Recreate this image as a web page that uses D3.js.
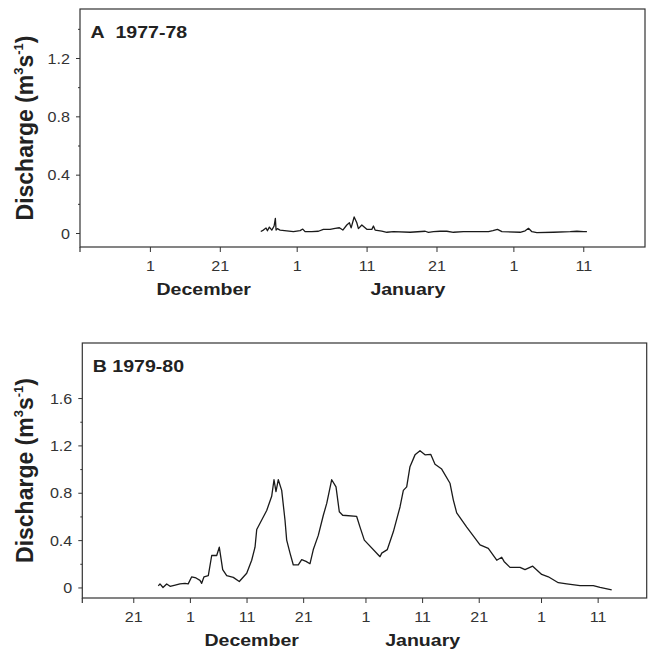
<!DOCTYPE html>
<html>
<head>
<meta charset="utf-8">
<script src="https://cdn.jsdelivr.net/npm/d3@7"></script>
<style>
  body { margin: 0; background: #fff; }
  text { font-family: "Liberation Sans", Arial, sans-serif; fill: #222; }
</style>
</head>
<body>
<svg id="chart" width="648" height="651"></svg>
<script>
'use strict';

// discharge series, x = days after 1 December, y = m3/s
const daysA = [25.86, 26.23, 26.62, 26.81, 27.09, 27.44, 27.77, 27.95, 28.05, 28.24, 28.62, 29.58, 30.53,
  31.49, 31.87, 32.2, 33.16, 34.11, 34.82, 35.78, 36.5, 37.11, 37.6, 38.17, 38.54, 38.79, 39.22, 39.6,
  39.83, 40.32, 41.03, 41.75, 41.98, 42.22, 43.18, 43.9, 44.84, 47.23, 49.38, 49.85, 50.57, 51.52, 52.48,
  53.43, 54.86, 56.96, 58.44, 59.07, 59.73, 60.36, 62.97, 63.69, 64.16, 64.65, 65.36, 67.74, 70.13,
  71.09, 72.04, 72.52];
const flowA = [0.01, 0.02, 0.034, 0.015, 0.04, 0.02, 0.048, 0.1, 0.02, 0.03, 0.02, 0.014, 0.009,
  0.016, 0.027, 0.009, 0.009, 0.012, 0.025, 0.025, 0.032, 0.036, 0.02, 0.055, 0.07, 0.035, 0.11, 0.07,
  0.03, 0.055, 0.025, 0.025, 0.048, 0.02, 0.013, 0.005, 0.009, 0.005, 0.012, 0.005, 0.009, 0.012, 0.012,
  0.005, 0.009, 0.009, 0.009, 0.016, 0.025, 0.009, 0.005, 0.015, 0.032, 0.009, 0.002, 0.005, 0.009,
  0.012, 0.009, 0.009];

const daysB = [-5.58, -5.28, -4.75, -4.1, -3.5, -2.6, -1.75, -0.87, -0.3, 0.32, 1.08, 1.78, 2.08, 2.49,
  3.25, 3.85, 4.73, 5.19, 5.79, 6.5, 7.66, 8.72, 10.03, 10.91, 11.5, 11.8, 12.68, 13.56, 14.44, 14.85,
  15.2, 15.61, 16.21, 16.79, 17.09, 17.68, 18.26, 19.14, 19.74, 20.5, 21.2, 21.79, 22.67, 23.56, 24.16,
  25.04, 25.8, 26.38, 26.98, 29.45, 30.04, 30.8, 33.57, 33.87, 34.86, 35.92, 37.1, 37.69, 38.28, 38.86,
  39.75, 40.63, 41.51, 42.52, 43.28, 44.46, 45.93, 46.51, 47.11, 48.88, 51.23, 52.69, 54.18, 55.06,
  55.47, 56.52, 58.29, 59.17, 60.53, 62.12, 63.29, 65.05, 66.54, 68.88, 71.23, 72.42, 74.48];
const flowB = [0.013, 0.03, 0.0, 0.03, 0.01, 0.02, 0.03, 0.035, 0.03, 0.09, 0.08, 0.06, 0.035, 0.09,
  0.1, 0.27, 0.27, 0.34, 0.15, 0.1, 0.085, 0.05, 0.12, 0.23, 0.34, 0.49, 0.57, 0.65, 0.77, 0.91,
  0.81, 0.91, 0.82, 0.57, 0.4, 0.29, 0.19, 0.19, 0.235, 0.22, 0.2, 0.32, 0.44, 0.61, 0.71,
  0.91, 0.85, 0.64, 0.61, 0.6, 0.51, 0.4, 0.26, 0.29, 0.32, 0.47, 0.68, 0.82, 0.85, 1.02,
  1.12, 1.155, 1.12, 1.125, 1.04, 1.0, 0.88, 0.74, 0.63, 0.51, 0.36, 0.33, 0.23, 0.255,
  0.22, 0.17, 0.17, 0.15, 0.18, 0.11, 0.09, 0.04, 0.03, 0.015, 0.015, 0.0, -0.02];

const yTicksA = [0, 0.4, 0.8, 1.2];
const yMinorA = [0.2, 0.6, 1.0, 1.4];
const yTicksB = [0, 0.4, 0.8, 1.2, 1.6];
const yMinorB = [0.2, 0.6, 1.0, 1.4];
const yLabelsA = ['0', '0.4', '0.8', '1.2'];
const yLabelsB = ['0', '0.4', '0.8', '1.2', '1.6'];

const xTickDaysA = [10, 20, 31, 41, 51, 62, 72];
const xTickLabelsA = ['1', '21', '1', '11', '21', '1', '11'];
const xTickDaysB = [-10, 0, 10, 20, 31, 41, 51, 62, 72];
const xTickLabelsB = ['21', '1', '11', '21', '1', '11', '21', '1', '11'];

const months = ['December', 'January'];
const monthDaysA = [17.7, 46.9];
const monthDaysB = [10.9, 41.1];

const SX = 1.15;  // the printed figure is a bit wider than tall
const DAY = 864e5;
const svg = d3.select('#chart');

const panels = [
  { title: 'A\u00a0 1977-78', year: 1977, days: daysA, flow: flowA,
    yTicks: yTicksA, yMinor: yMinorA, yLabels: yLabelsA,
    xTicks: xTickDaysA, xLabels: xTickLabelsA, monthDays: monthDaysA,
    left: 80, right: 645, top: 9, bottom: 247,
    dayDomain: [0, 80.83], yDomain: [-0.096, 1.536] },
  { title: 'B 1979-80', year: 1979, days: daysB, flow: flowB,
    yTicks: yTicksB, yMinor: yMinorB, yLabels: yLabelsB,
    xTicks: xTickDaysB, xLabels: xTickLabelsB, monthDays: monthDaysB,
    left: 82.3, right: 646.7, top: 343, bottom: 598,
    dayDomain: [-19.0, 80.66], yDomain: [-0.089, 2.065] }
];

function stretched(g, x, y, str) {
  return g.append('text')
    .attr('transform', `translate(${x},${y}) scale(${SX},1)`)
    .text(str);
}

function drawPanel(p) {
  const start = Date.UTC(p.year, 11, 1);
  const toDate = d => new Date(start + d * DAY);

  const x = d3.scaleUtc()
    .domain(p.dayDomain.map(toDate))
    .range([p.left, p.right]);
  const y = d3.scaleLinear()
    .domain(p.yDomain)
    .range([p.bottom, p.top]);

  const g = svg.append('g');

  // x axis
  const xAxis = d3.axisBottom(x)
    .tickValues(p.xTicks.map(toDate))
    .tickSize(5)
    .tickFormat((d, i) => p.xLabels[i]);
  const gx = g.append('g')
    .attr('transform', `translate(0,${p.bottom})`)
    .call(xAxis);
  gx.select('.domain').remove();
  gx.selectAll('.tick line').attr('stroke', '#333');
  gx.selectAll('.tick text')
    .attr('y', 0).attr('dy', 0)
    .attr('transform', `translate(0,24) scale(${SX},1)`)
    .style('font-size', '14px').style('fill', '#333');

  // y axis, labelled + minor ticks
  const yAxis = d3.axisLeft(y)
    .tickValues(p.yTicks)
    .tickSize(4)
    .tickFormat((d, i) => p.yLabels[i]);
  const gy = g.append('g')
    .attr('transform', `translate(${p.left},0)`)
    .call(yAxis);
  gy.select('.domain').remove();
  gy.selectAll('.tick line').attr('stroke', '#333');
  gy.selectAll('.tick text')
    .attr('x', 0).attr('dy', 0)
    .attr('transform', `translate(-10,5) scale(${SX},1)`)
    .style('font-size', '14px').style('fill', '#333');

  const gm = g.append('g')
    .attr('transform', `translate(${p.left},0)`)
    .call(d3.axisLeft(y).tickValues(p.yMinor).tickSize(2).tickFormat(''));
  gm.select('.domain').remove();
  gm.selectAll('.tick line').attr('stroke', '#333');

  // frame
  g.append('rect')
    .attr('x', p.left).attr('y', p.top)
    .attr('width', p.right - p.left).attr('height', p.bottom - p.top)
    .attr('fill', 'none').attr('stroke', '#333').attr('stroke-width', 1.2);
  g.append('line')
    .attr('x1', p.left).attr('x2', p.left)
    .attr('y1', p.bottom).attr('y2', p.bottom + 5)
    .attr('stroke', '#333').attr('stroke-width', 1.2);

  // series
  const pts = p.days.map((d, i) => [d, p.flow[i]]);
  const line = d3.line()
    .x(d => x(toDate(d[0])))
    .y(d => y(d[1]));
  g.append('path')
    .datum(pts)
    .attr('d', line)
    .attr('fill', 'none')
    .attr('stroke', '#1a1a1a')
    .attr('stroke-width', 1.3)
    .attr('stroke-linejoin', 'round');

  // panel title
  stretched(g, p.left + 10.5, p.top + 28.5, p.title)
    .style('font-size', '17px').style('font-weight', 'bold');

  // month names
  months.forEach((m, i) => {
    stretched(g, x(toDate(p.monthDays[i])), p.bottom + 48, m)
      .attr('text-anchor', 'middle')
      .style('font-size', '17px').style('font-weight', 'bold');
  });

  // y label
  const cy = (p.top + p.bottom) / 2;
  const lab = g.append('text')
    .attr('transform', `translate(33,${cy}) scale(1.05,1) rotate(-90)`)
    .attr('text-anchor', 'middle')
    .style('font-size', '23px').style('font-weight', 'bold');
  lab.append('tspan').text('Discharge (m');
  lab.append('tspan').attr('dy', -10).style('font-size', '13px').text('3');
  lab.append('tspan').attr('dy', 10).text('s');
  lab.append('tspan').attr('dy', -10).style('font-size', '13px').text('-1');
  lab.append('tspan').attr('dy', 10).text(')');
}

panels.forEach(drawPanel);
</script>
</body>
</html>
